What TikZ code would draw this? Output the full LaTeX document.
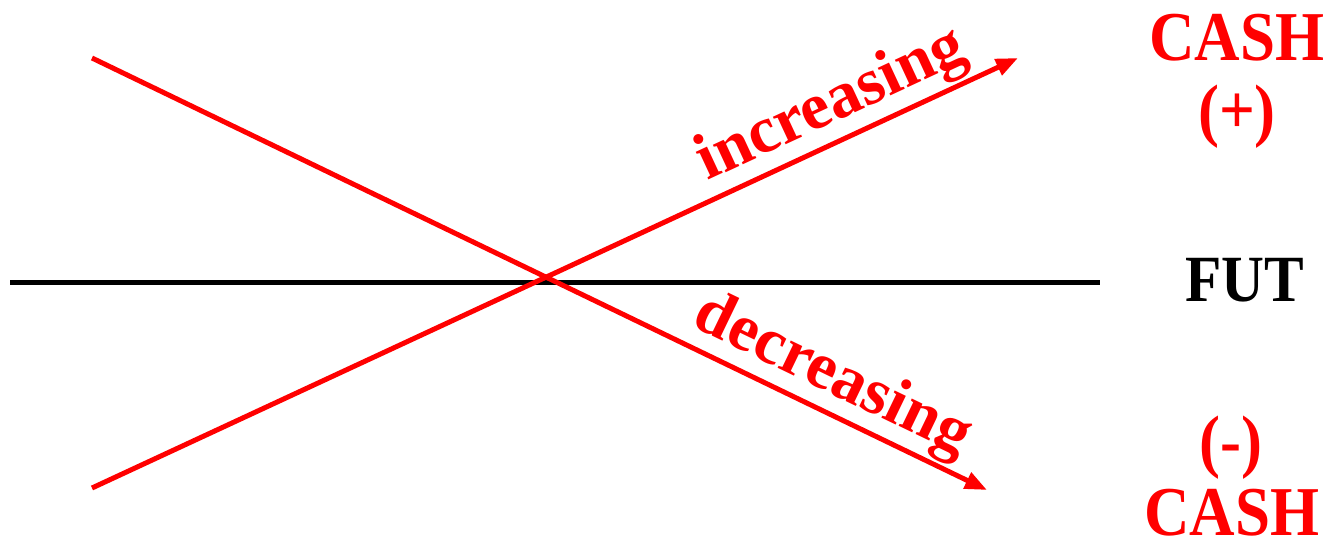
\documentclass[tikz,border=0pt]{standalone}
\usepackage{fontspec}
\setmainfont{Liberation Serif}
\newfontfamily\narrowfont[FakeStretch=0.9]{Liberation Serif}
\usetikzlibrary{arrows.meta}
\begin{document}
\begin{tikzpicture}[x=1pt,y=-1pt,
  redline/.style={draw=red,line width=5pt,-{Triangle[length=22pt,width=17pt]}},
  axisline/.style={draw=black,line width=5pt},
  bigtext/.style={text=red,font=\narrowfont\bfseries\fontsize{70}{70}\selectfont,inner sep=0pt},
  slopetext/.style={text=red,font=\bfseries\fontsize{66}{66}\selectfont,inner sep=0pt,sloped,above}]
\useasboundingbox (0,0) rectangle (1329,537);
\coordinate (axL) at (10,282);
\coordinate (axR) at (1100,282);
\coordinate (upS) at (92,488);
\coordinate (upE) at (1018,58);
\coordinate (dnS) at (92,58);
\coordinate (dnE) at (987,490);
\draw[axisline] (axL) -- (axR);
\draw[redline] (upS) -- node[slopetext,pos=0.815,yshift=2pt] (inc) {increasing} (upE);
\draw[redline] (dnS) -- node[slopetext,pos=0.81,yshift=2pt] (dec) {decreasing} (dnE);
\node[bigtext] (cashT) at (1237,38) {CASH};
\node[bigtext] (plus) at (1237,117) {(+)};
\node[bigtext,text=black,font=\narrowfont\bfseries\fontsize{66}{66}\selectfont] (fut) at (1245,280) {FUT};
\node[bigtext] (minus) at (1231,448) {(-)};
\node[bigtext] (cashB) at (1232,513) {CASH};
\end{tikzpicture}
\end{document}
